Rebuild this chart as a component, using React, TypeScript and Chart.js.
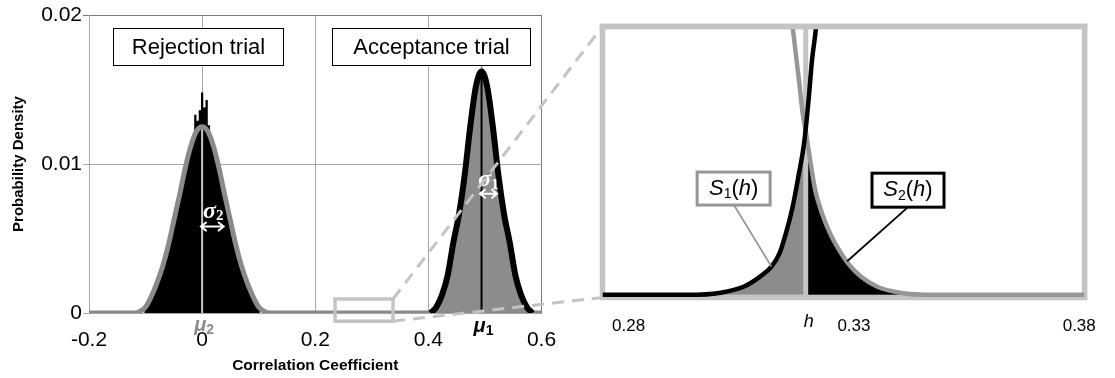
import React, { useEffect, useRef } from "react";
import { Chart, registerables } from "chart.js";
Chart.register(...registerables);

const SANS = '"Liberation Sans", Arial, Helvetica, sans-serif';
const SERIF = '"Liberation Serif", "Times New Roman", serif';

// ---------------- Left chart data ----------------
const LEFT_X_RANGE = [-0.2, 0.6];
const LEFT_X_STEP = 0.2;
const LEFT_Y_RANGE = [0, 0.02];
const LEFT_Y_STEP = 0.01;

// Rejection trial: fitted curve (grey)
const REJ_CURVE_X = [-0.2, -0.12, -0.11, -0.1, -0.09, -0.08, -0.07, -0.06, -0.05, -0.04, -0.03, -0.02, -0.01, 0, 0.01, 0.02, 0.03, 0.04, 0.05, 0.06, 0.07, 0.08, 0.09, 0.1, 0.11, 0.12, 0.6];
const REJ_CURVE_Y = [0, 0, 0.0001, 0.0004, 0.0011, 0.002, 0.0031, 0.0045, 0.0062, 0.0079, 0.0097, 0.0112, 0.0122, 0.0125, 0.0122, 0.0112, 0.0097, 0.0079, 0.0062, 0.0045, 0.0031, 0.002, 0.0011, 0.0004, 0.0001, 0, 0];

// Rejection trial: histogram (black)
const REJ_HIST_X = [-0.104, -0.1, -0.096, -0.092, -0.088, -0.084, -0.08, -0.076, -0.072, -0.068, -0.064, -0.06, -0.056, -0.052, -0.048, -0.044, -0.04, -0.036, -0.032, -0.028, -0.024, -0.02, -0.016, -0.012, -0.008, -0.004, 0, 0.004, 0.008, 0.012, 0.016, 0.02, 0.024, 0.028, 0.032, 0.036, 0.04, 0.044, 0.048, 0.052, 0.056, 0.06, 0.064, 0.068, 0.072, 0.076, 0.08, 0.084, 0.088, 0.092, 0.096, 0.1, 0.104];
const REJ_HIST_Y = [0, 0.0004, 0.0006, 0.0009, 0.0013, 0.0017, 0.002, 0.0025, 0.0029, 0.0034, 0.0039, 0.0045, 0.0051, 0.0058, 0.0065, 0.0073, 0.0079, 0.0087, 0.0098, 0.0099, 0.0106, 0.0111, 0.0116, 0.0133, 0.0129, 0.0136, 0.0148, 0.0138, 0.0143, 0.0126, 0.0118, 0.0112, 0.0106, 0.0101, 0.0093, 0.0087, 0.0079, 0.0072, 0.0065, 0.0058, 0.0051, 0.0045, 0.004, 0.0034, 0.0029, 0.0024, 0.002, 0.0016, 0.0012, 0.0008, 0.0005, 0.0003, 0];

// Acceptance trial: fitted curve (black)
const ACC_CURVE_X = [0.404, 0.414, 0.424, 0.434, 0.444, 0.454, 0.464, 0.474, 0.484, 0.494, 0.504, 0.514, 0.524, 0.534, 0.544, 0.554, 0.564, 0.574, 0.584];
const ACC_CURVE_Y = [0, 0.0004, 0.0012, 0.0025, 0.0047, 0.0066, 0.0092, 0.0125, 0.0152, 0.0162, 0.0152, 0.0125, 0.0092, 0.0066, 0.0047, 0.0025, 0.0012, 0.0004, 0];

// Acceptance trial: histogram (grey)
const ACC_HIST_X = [0.404, 0.414, 0.424, 0.434, 0.444, 0.454, 0.464, 0.474, 0.484, 0.4925, 0.4932, 0.4952, 0.4958, 0.504, 0.514, 0.524, 0.534, 0.544, 0.554, 0.564, 0.574, 0.584];
const ACC_HIST_Y = [0, 0.0004, 0.0012, 0.0025, 0.0047, 0.0066, 0.0092, 0.0125, 0.0152, 0.0161, 0.0166, 0.0166, 0.0161, 0.0152, 0.0125, 0.0092, 0.0066, 0.0047, 0.0025, 0.0012, 0.0004, 0];

const MU1 = 0.494;
const MU2 = 0;
const MU1_TOP = 0.016;
const MU2_TOP = 0.0125;
const SIGMA1_ARROW = [0.4913, 0.5214];
const SIGMA1_Y = 0.008;
const SIGMA2_ARROW = [-0.002, 0.038];
const SIGMA2_Y = 0.0058;
const ZOOM_BOX_X = [0.235, 0.3375];
const ZOOM_BOX_Y = [0.00094, -0.00055];

// ---------------- Right (zoomed) chart data ----------------
const RIGHT_X_RANGE = [0.2742, 0.3812];
const RIGHT_Y_RANGE = [-0.01, 1];
const RIGHT_TICKS = [0.28, 0.33, 0.38];
const H = 0.3193;

const ZACC_X = [0.2742, 0.2932, 0.3004, 0.3055, 0.3091, 0.3117, 0.3135, 0.3149, 0.3164, 0.3178, 0.3189, 0.3199, 0.3207, 0.3216, 0.3225];
const ZACC_Y = [0, 0, 0.008, 0.03, 0.067, 0.105, 0.155, 0.229, 0.328, 0.453, 0.56, 0.72, 0.875, 0.999, 1.2];

const ZREJ_X = [0.3149, 0.3164, 0.3178, 0.3186, 0.3195, 0.3204, 0.3214, 0.3229, 0.3247, 0.3265, 0.3287, 0.3316, 0.3352, 0.3402, 0.3475, 0.3811];
const ZREJ_Y = [1.2, 0.998, 0.8, 0.68, 0.589, 0.49, 0.391, 0.304, 0.229, 0.173, 0.117, 0.067, 0.03, 0.008, 0, 0];

const S1_X = [0.299, 0.3004, 0.3055, 0.3091, 0.3117, 0.3135, 0.3149, 0.3164, 0.3178, 0.3189, 0.3193];
const S1_Y = [0, 0.008, 0.03, 0.067, 0.105, 0.155, 0.229, 0.328, 0.453, 0.56, 0.62];

const S2_X = [0.3193, 0.3197, 0.3204, 0.3214, 0.3229, 0.3247, 0.3265, 0.3287, 0.3316, 0.3352, 0.3402, 0.3418];
const S2_Y = [0.5, 0.5, 0.47, 0.38, 0.3, 0.226, 0.17, 0.115, 0.066, 0.029, 0.007, 0];

const S1_BOX = { x: 0.3033, y: 0.396 };
const S1_LEADER_END = { x: 0.3117, y: 0.105 };
const S2_BOX = { x: 0.342, y: 0.39 };
const S2_LEADER_END = { x: 0.3285, y: 0.125 };

// ---------------- layout constants ----------------
const W = 1115;
const HGT = 378;
const R_LEFT = 590;
const R_W = W - R_LEFT;
const R_PAD = { left: 12.5, right: 19.5, top: 26.5 };
const R_AXIS_H = 80.5;
const FRAME = "#c4c4c4";

const pts = (xs: number[], ys: number[]) => xs.map((x, i) => ({ x, y: ys[i] }));

type Piece = { t: string; font: string; dy?: number };
function drawPieces(ctx: CanvasRenderingContext2D, pieces: Piece[], cx: number, cy: number, color: string) {
  ctx.save();
  ctx.fillStyle = color;
  ctx.textBaseline = "middle";
  ctx.textAlign = "left";
  let total = 0;
  const widths = pieces.map((p) => {
    ctx.font = p.font;
    const w = ctx.measureText(p.t).width;
    total += w;
    return w;
  });
  let x = cx - total / 2;
  pieces.forEach((p, i) => {
    ctx.font = p.font;
    ctx.fillText(p.t, x, cy + (p.dy || 0));
    x += widths[i];
  });
  ctx.restore();
}

function drawDoubleArrow(ctx: CanvasRenderingContext2D, xa: number, xb: number, y: number) {
  ctx.save();
  ctx.strokeStyle = "#fff";
  ctx.lineWidth = 2;
  ctx.lineCap = "round";
  ctx.beginPath();
  ctx.moveTo(xa, y);
  ctx.lineTo(xb, y);
  ctx.moveTo(xa + 5, y - 4);
  ctx.lineTo(xa, y);
  ctx.lineTo(xa + 5, y + 4);
  ctx.moveTo(xb - 5, y - 4);
  ctx.lineTo(xb, y);
  ctx.lineTo(xb - 5, y + 4);
  ctx.stroke();
  ctx.restore();
}

function labelBox(ctx: CanvasRenderingContext2D, x0: number, y0: number, x1: number, y1: number, stroke: string, lw: number) {
  ctx.save();
  ctx.fillStyle = "#fff";
  ctx.fillRect(x0, y0, x1 - x0, y1 - y0);
  ctx.strokeStyle = stroke;
  ctx.lineWidth = lw;
  ctx.strokeRect(x0, y0, x1 - x0, y1 - y0);
  ctx.restore();
}

const leftPlugin = {
  id: "leftDecor",
  afterDatasetsDraw(chart: any) {
    const { ctx, scales } = chart;
    const x = scales.x;
    const y = scales.y;
    drawDoubleArrow(ctx, x.getPixelForValue(SIGMA2_ARROW[0]), x.getPixelForValue(SIGMA2_ARROW[1]), y.getPixelForValue(SIGMA2_Y));
    drawPieces(ctx, [
      { t: "σ", font: `italic bold 24px ${SERIF}` },
      { t: "2", font: `bold 15px ${SERIF}`, dy: 5 },
    ], (x.getPixelForValue(SIGMA2_ARROW[0]) + x.getPixelForValue(SIGMA2_ARROW[1])) / 2 + 1, y.getPixelForValue(SIGMA2_Y) - 15, "#fff");
    drawDoubleArrow(ctx, x.getPixelForValue(SIGMA1_ARROW[0]), x.getPixelForValue(SIGMA1_ARROW[1]), y.getPixelForValue(SIGMA1_Y));
    drawPieces(ctx, [
      { t: "σ", font: `italic bold 24px ${SERIF}` },
      { t: "1", font: `bold 15px ${SERIF}`, dy: 5 },
    ], (x.getPixelForValue(SIGMA1_ARROW[0]) + x.getPixelForValue(SIGMA1_ARROW[1])) / 2, y.getPixelForValue(SIGMA1_Y) - 14, "#fff");

    ctx.save();
    labelBox(ctx, 113.5, 28.5, 283.5, 65.5, "#000", 1);
    labelBox(ctx, 332.5, 28.5, 530.5, 65.5, "#000", 1);
    ctx.fillStyle = "#000";
    ctx.font = `22px ${SANS}`;
    ctx.textAlign = "center";
    ctx.textBaseline = "middle";
    ctx.fillText("Rejection trial", 198.5, 47.5);
    ctx.fillText("Acceptance trial", 431.5, 47.5);
    ctx.restore();
  },
  afterDraw(chart: any) {
    const { ctx, scales, chartArea } = chart;
    const x = scales.x;
    const y = scales.y;
    drawPieces(ctx, [
      { t: "μ", font: `italic bold 20px ${SANS}` },
      { t: "2", font: `bold 14px ${SANS}`, dy: 5 },
    ], x.getPixelForValue(MU2) + 2, chartArea.bottom + 12, "#8c8c8c");
    drawPieces(ctx, [
      { t: "μ", font: `italic bold 20px ${SANS}` },
      { t: "1", font: `bold 14px ${SANS}`, dy: 5 },
    ], x.getPixelForValue(MU1) + 2, chartArea.bottom + 13, "#000");

    const bx0 = x.getPixelForValue(ZOOM_BOX_X[0]);
    const bx1 = x.getPixelForValue(ZOOM_BOX_X[1]);
    const by0 = y.getPixelForValue(ZOOM_BOX_Y[0]);
    const by1 = y.getPixelForValue(ZOOM_BOX_Y[1]);
    const fx = R_LEFT + R_PAD.left;
    const fTop = R_PAD.top;
    const fBot = HGT - R_AXIS_H;
    ctx.save();
    ctx.strokeStyle = FRAME;
    ctx.lineWidth = 3.5;
    ctx.strokeRect(bx0, by0, bx1 - bx0, by1 - by0);
    ctx.setLineDash([12, 8]);
    ctx.lineWidth = 3;
    ctx.beginPath();
    ctx.moveTo(bx1, by0);
    ctx.lineTo(fx, fTop);
    ctx.moveTo(bx1, by1);
    ctx.lineTo(fx, fBot);
    ctx.stroke();
    ctx.restore();
  },
};

const rightPlugin = {
  id: "rightDecor",
  beforeDatasetsDraw(chart: any) {
    const { ctx, chartArea: a } = chart;
    ctx.save();
    ctx.strokeStyle = FRAME;
    ctx.lineWidth = 5.5;
    ctx.strokeRect(a.left, a.top, a.right - a.left, a.bottom - a.top);
    ctx.restore();
  },
  afterDatasetsDraw(chart: any) {
    const { ctx, chartArea: a, scales } = chart;
    const x = scales.x;
    const y = scales.y;
    ctx.save();
    ctx.strokeStyle = FRAME;
    ctx.lineWidth = 5.5;
    ctx.beginPath();
    ctx.moveTo(a.left - 2.75, a.top);
    ctx.lineTo(a.right + 2.75, a.top);
    ctx.stroke();

    const s1x = x.getPixelForValue(S1_BOX.x);
    const s1y = y.getPixelForValue(S1_BOX.y);
    const s2x = x.getPixelForValue(S2_BOX.x);
    const s2y = y.getPixelForValue(S2_BOX.y);
    ctx.lineWidth = 1.8;
    ctx.strokeStyle = "#969696";
    ctx.beginPath();
    ctx.moveTo(s1x, s1y + 16);
    ctx.lineTo(x.getPixelForValue(S1_LEADER_END.x), y.getPixelForValue(S1_LEADER_END.y));
    ctx.stroke();
    ctx.strokeStyle = "#000";
    ctx.beginPath();
    ctx.moveTo(s2x, s2y + 17);
    ctx.lineTo(x.getPixelForValue(S2_LEADER_END.x), y.getPixelForValue(S2_LEADER_END.y));
    ctx.stroke();
    ctx.restore();

    labelBox(ctx, s1x - 36.5, s1y - 16.5, s1x + 36.5, s1y + 16.5, "#969696", 3);
    labelBox(ctx, s2x - 36, s2y - 17, s2x + 36, s2y + 17, "#000", 3);
    const sp = (n: string): Piece[] => [
      { t: "S", font: `italic 22px ${SANS}` },
      { t: n, font: `14px ${SANS}`, dy: 6 },
      { t: "(", font: `22px ${SANS}` },
      { t: "h", font: `italic 22px ${SANS}` },
      { t: ")", font: `22px ${SANS}` },
    ];
    drawPieces(ctx, sp("1"), s1x, s1y, "#000");
    drawPieces(ctx, sp("2"), s2x, s2y, "#000");

    ctx.save();
    ctx.fillStyle = "#000";
    ctx.font = `italic 18px ${SANS}`;
    ctx.textAlign = "center";
    ctx.textBaseline = "middle";
    ctx.fillText("h", x.getPixelForValue(H) + 3, a.bottom + 24);
    ctx.restore();
  },
};

const near = (a: number, b: number) => Math.abs(a - b) < 1e-9;

export default function App() {
  const leftRef = useRef<HTMLCanvasElement>(null);
  const rightRef = useRef<HTMLCanvasElement>(null);

  useEffect(() => {
    const line = { pointRadius: 0, fill: false, cubicInterpolationMode: "monotone" as const };
    const left = new Chart(leftRef.current as HTMLCanvasElement, {
      type: "line",
      data: {
        datasets: [
          { ...line, label: "Acceptance fit", data: pts(ACC_CURVE_X, ACC_CURVE_Y), borderColor: "#000", borderWidth: 6, order: 1 },
          { ...line, label: "Rejection fit", data: pts(REJ_CURVE_X, REJ_CURVE_Y), borderColor: "#8a8a8a", borderWidth: 5, order: 2 },
          { ...line, label: "mu2", data: [{ x: MU2, y: 0 }, { x: MU2, y: MU2_TOP }], borderColor: "#c8c8c8", borderWidth: 2, order: 3 },
          { ...line, label: "mu1", data: [{ x: MU1, y: 0 }, { x: MU1, y: MU1_TOP }], borderColor: "#000", borderWidth: 2, order: 4 },
          { ...line, label: "Acceptance histogram", data: pts(ACC_HIST_X, ACC_HIST_Y), borderColor: "rgba(0,0,0,0)", borderWidth: 1, backgroundColor: "#8c8c8c", fill: "origin", order: 5 },
          { pointRadius: 0, label: "Rejection histogram", data: pts(REJ_HIST_X, REJ_HIST_Y), stepped: "middle", borderColor: "rgba(0,0,0,0)", borderWidth: 1, backgroundColor: "#000", fill: "origin", order: 6 },
        ] as any,
      },
      options: {
        animation: false,
        responsive: true,
        maintainAspectRatio: false,
        devicePixelRatio: 1,
        layout: { padding: { left: 0, top: 15, right: 573.5, bottom: 0 } },
        plugins: { legend: { display: false }, tooltip: { enabled: false } },
        events: [],
        scales: {
          x: {
            type: "linear",
            min: LEFT_X_RANGE[0],
            max: LEFT_X_RANGE[1],
            ticks: { stepSize: LEFT_X_STEP, font: { family: SANS, size: 21 }, color: "#000", padding: 15, maxRotation: 0 },
            grid: { color: (c: any) => (near(c.tick?.value, LEFT_X_RANGE[1]) ? "#7a7a7a" : "#a6a6a6"), drawTicks: false, lineWidth: 1 },
            border: { color: "#a6a6a6" },
            title: { display: true, text: "Correlation Ceefficient", color: "#000", font: { family: SANS, size: 15.5, weight: "bold" }, padding: { top: 0, bottom: 3 } },
            afterFit: (s: any) => { s.height = 65; },
          },
          y: {
            type: "linear",
            min: LEFT_Y_RANGE[0],
            max: LEFT_Y_RANGE[1],
            ticks: { stepSize: LEFT_Y_STEP, font: { family: SANS, size: 21 }, color: "#000", padding: 1 },
            grid: { color: (c: any) => (near(c.tick?.value, LEFT_Y_RANGE[1]) ? "#7a7a7a" : "#a6a6a6"), drawTicks: true, tickLength: 6 },
            border: { color: "#a6a6a6" },
            title: { display: true, text: "Probability Density", color: "#000", font: { family: SANS, size: 15, weight: "bold" }, padding: { top: 10, bottom: 0 } },
            afterFit: (s: any) => { s.width = 89; },
          },
        },
      } as any,
      plugins: [leftPlugin],
    });

    const right = new Chart(rightRef.current as HTMLCanvasElement, {
      type: "line",
      data: {
        datasets: [
          { ...line, label: "Acceptance tail", data: pts(ZACC_X, ZACC_Y), borderColor: "#000", borderWidth: 4.5, order: 1 },
          { ...line, label: "Rejection tail", data: pts(ZREJ_X, ZREJ_Y), borderColor: "#969696", borderWidth: 4.5, order: 2 },
          { ...line, label: "h", data: [{ x: H, y: RIGHT_Y_RANGE[0] }, { x: H, y: RIGHT_Y_RANGE[1] }], borderColor: "#c4c4c4", borderWidth: 5, order: 3 },
          { ...line, label: "S2(h)", data: pts(S2_X, S2_Y), borderColor: "rgba(0,0,0,0)", borderWidth: 1, backgroundColor: "#000", fill: "origin", order: 4 },
          { ...line, label: "S1(h)", data: pts(S1_X, S1_Y), borderColor: "rgba(0,0,0,0)", borderWidth: 1, backgroundColor: "#8c8c8c", fill: "origin", order: 5 },
        ] as any,
      },
      options: {
        animation: false,
        responsive: true,
        maintainAspectRatio: false,
        devicePixelRatio: 1,
        layout: { padding: { left: R_PAD.left, top: R_PAD.top, right: R_PAD.right, bottom: 0 } },
        plugins: { legend: { display: false }, tooltip: { enabled: false } },
        events: [],
        scales: {
          x: {
            type: "linear",
            min: RIGHT_X_RANGE[0],
            max: RIGHT_X_RANGE[1],
            afterBuildTicks: (s: any) => { s.ticks = RIGHT_TICKS.map((v) => ({ value: v })); },
            ticks: { font: { family: SANS, size: 17 }, color: "#000", padding: 19, maxRotation: 0, autoSkip: false, callback: (v: any) => Number(v).toFixed(2) },
            grid: { display: false, drawTicks: false },
            border: { display: false },
            afterFit: (s: any) => { s.height = R_AXIS_H; },
          },
          y: { type: "linear", display: false, min: RIGHT_Y_RANGE[0], max: RIGHT_Y_RANGE[1] },
        },
      } as any,
      plugins: [rightPlugin],
    });

    return () => {
      left.destroy();
      right.destroy();
    };
  }, []);

  return (
    <div style={{ position: "fixed", left: 0, top: 0, width: W, height: HGT, background: "#fff" }}>
      <div style={{ position: "absolute", left: 0, top: 0, width: W, height: HGT }}>
        <canvas ref={leftRef} />
      </div>
      <div style={{ position: "absolute", left: R_LEFT, top: 0, width: R_W, height: HGT }}>
        <canvas ref={rightRef} />
      </div>
    </div>
  );
}
